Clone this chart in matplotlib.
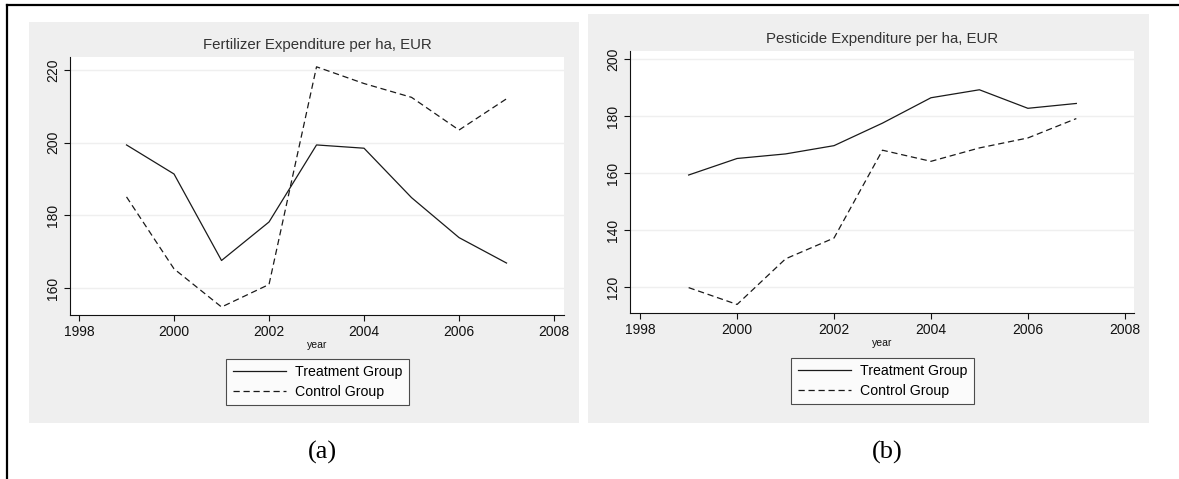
import matplotlib.pyplot as plt
from matplotlib.patches import Rectangle
from matplotlib.lines import Line2D

plt.rcParams["font.family"] = ["Liberation Sans", "DejaVu Sans"]

years = [1999, 2000, 2001, 2002, 2003, 2004, 2005, 2006, 2007]
fert_treat = [199.4, 191.4, 167.6, 178.2, 199.4, 198.5, 184.9, 173.9, 166.9]
fert_ctrl = [185.1, 165.3, 154.8, 161.0, 220.9, 216.3, 212.5, 203.5, 212.1]
pest_treat = [159.3, 165.1, 166.7, 169.6, 177.5, 186.4, 189.2, 182.7, 184.4]
pest_ctrl = [119.8, 113.9, 129.9, 137.2, 168.0, 164.1, 168.8, 172.3, 179.1]

x_ticks = [1998, 2000, 2002, 2004, 2006, 2008]
fert_yticks = [160, 180, 200, 220]
pest_yticks = [120, 140, 160, 180, 200]
labels = ["Treatment Group", "Control Group"]

W, H = 1179, 479
fig = plt.figure(figsize=(W / 100, H / 100), dpi=100)


def px_rect(x0, y0, x1, y1):
    # pixel box (top-left origin) -> figure fractions
    return [x0 / W, 1 - y1 / H, (x1 - x0) / W, (y1 - y0) / H]


# outer frame lines (left and top only visible)
fig.add_artist(Line2D([7 / W, 7 / W], [0, 1 - 5 / H], color="black", lw=1.6))
fig.add_artist(Line2D([7 / W, 1], [1 - 5 / H, 1 - 5 / H], color="black", lw=1.6))

panels = [
    dict(bg=(29, 22, 579, 423), ax=(70, 57, 564, 315), title="Fertilizer Expenditure per ha, EUR",
         t=fert_treat, c=fert_ctrl, yt=fert_yticks, ylim=(152.6, 223.6), xlim=(1997.81, 2008.21),
         leg=(317.5, 359), tag="(a)", tagpos=(322, 452)),
    dict(bg=(588, 14, 1149, 423), ax=(630, 51, 1134, 313), title="Pesticide Expenditure per ha, EUR",
         t=pest_treat, c=pest_ctrl, yt=pest_yticks, ylim=(110.9, 202.8), xlim=(1997.79, 2008.19),
         leg=(882.5, 358), tag="(b)", tagpos=(887, 452)),
]

for p in panels:
    x0, y0, x1, y1 = p["bg"]
    fig.patches.append(Rectangle((x0 / W, 1 - y1 / H), (x1 - x0) / W, (y1 - y0) / H,
                                 transform=fig.transFigure, facecolor="#efefef",
                                 edgecolor="none", zorder=-5))
    ax = fig.add_axes(px_rect(*p["ax"]))
    ax.set_zorder(2)
    ax.set_facecolor("white")
    ax.plot(years, p["t"], color="#1a1a1a", lw=0.9, label=labels[0])
    ax.plot(years, p["c"], color="#1a1a1a", lw=0.9, dashes=(5, 3), label=labels[1])
    ax.set_xlim(*p["xlim"])
    ax.set_ylim(*p["ylim"])
    ax.set_xticks(x_ticks)
    ax.set_yticks(p["yt"])
    ax.yaxis.grid(True, color="#efefef", lw=1.0)
    ax.set_axisbelow(True)
    for s in ["top", "right"]:
        ax.spines[s].set_visible(False)
    for s in ["left", "bottom"]:
        ax.spines[s].set_linewidth(0.8)
        ax.spines[s].set_color("#111111")
    ax.tick_params(direction="out", length=4, width=0.8, labelsize=10, colors="#111111", pad=3)
    for lab in ax.get_yticklabels():
        lab.set_rotation(90)
        lab.set_va("center")
    ax.set_title(p["title"], fontsize=10.8, color="#333333", pad=6)
    ax.set_xlabel("year", fontsize=7.5, labelpad=1, color="#111111")
    lx, ly = p["leg"]
    leg = ax.legend(loc="upper center", bbox_to_anchor=(lx / W, 1 - ly / H),
                    bbox_transform=fig.transFigure, fontsize=10.2, frameon=True,
                    fancybox=False, edgecolor="#222222", handlelength=3.8,
                    handletextpad=0.6, borderpad=0.45, labelspacing=0.4, borderaxespad=0)
    leg.get_frame().set_linewidth(0.8)
    tx, ty = p["tagpos"]
    fig.text(tx / W, 1 - ty / H, p["tag"], ha="center", va="center", fontsize=19,
             family=["Liberation Serif", "DejaVu Serif"])

fig.savefig("out.png", dpi=100)
